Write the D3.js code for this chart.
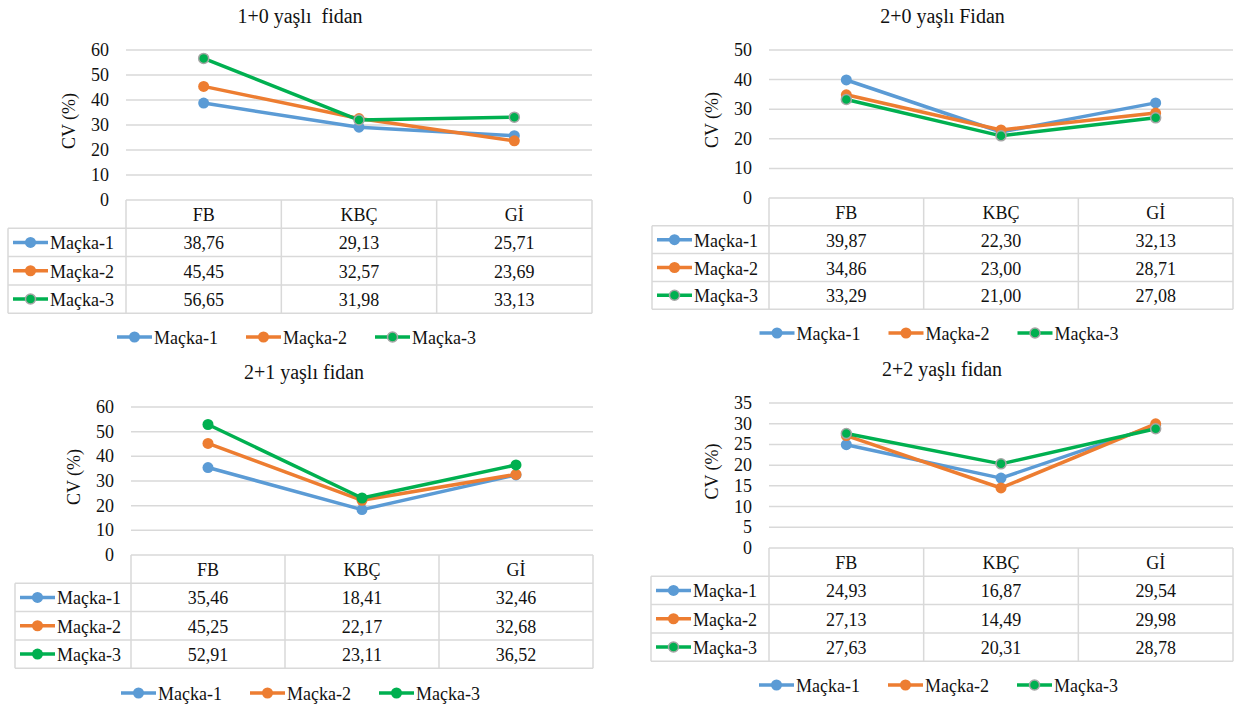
<!DOCTYPE html>
<html>
<head>
<meta charset="utf-8">
<script src="https://cdn.jsdelivr.net/npm/d3@7"></script>
<style>
  body { margin: 0; background: #fff; }
</style>
</head>
<body>
<div id="chart"></div>
<script>
// data
const categories = ["FB", "KBÇ", "Gİ"];
const seriesNames = ["Maçka-1", "Maçka-2", "Maçka-3"];
const titles = ["1+0 yaşlı  fidan", "2+0 yaşlı Fidan", "2+1 yaşlı fidan", "2+2 yaşlı fidan"];

const fidan10 = [[38.76, 29.13, 25.71], [45.45, 32.57, 23.69], [56.65, 31.98, 33.13]];
const fidan20 = [[39.87, 22.30, 32.13], [34.86, 23.00, 28.71], [33.29, 21.00, 27.08]];
const fidan21 = [[35.46, 18.41, 32.46], [45.25, 22.17, 32.68], [52.91, 23.11, 36.52]];
const fidan22 = [[24.93, 16.87, 29.54], [27.13, 14.49, 29.98], [27.63, 20.31, 28.78]];

const yMaxes = [60, 50, 60, 35];
const ySteps = [10, 10, 10, 5];

const colors = ["#5B9BD5", "#ED7D31", "#00B050"];

const width = 1236, height = 711;
const font = "Liberation Serif";
const fs = 18, fsTitle = 20;

// layout of the four panels
const panels = [
  { title: titles[0], values: fidan10, yMax: yMaxes[0], step: ySteps[0], tableLeft: 8, x0: 126, x1: 592, yTop: 50, yBottom: 200, rowH: 28.3, titleY: 16, legendY: 337, outline: true },
  { title: titles[1], values: fidan20, yMax: yMaxes[1], step: ySteps[1], tableLeft: 652, x0: 769, x1: 1233, yTop: 50, yBottom: 198, rowH: 27.8, titleY: 16, legendY: 333, outline: true },
  { title: titles[2], values: fidan21, yMax: yMaxes[2], step: ySteps[2], tableLeft: 15, x0: 131, x1: 593, yTop: 407, yBottom: 555, rowH: 28.3, titleY: 372, legendY: 693, outline: false },
  { title: titles[3], values: fidan22, yMax: yMaxes[3], step: ySteps[3], tableLeft: 651, x0: 769, x1: 1233, yTop: 403, yBottom: 548, rowH: 28.3, titleY: 369, legendY: 685, outline: true }
];

const svg = d3.select("#chart")
  .append("svg")
  .attr("width", width)
  .attr("height", height)
  .attr("font-family", font);

const fmt = v => v.toFixed(2).replace(".", ",");
const gridColor = "#d9d9d9";

function label(g, size) {
  return g.append("text")
    .attr("font-family", font)
    .style("font-family", `"${font}", serif`)
    .attr("font-size", size)
    .attr("fill", "#111")
    .attr("dominant-baseline", "central");
}

function drawMarker(g, cx, cy, i, outline) {
  const ring = i === 2 && outline;
  g.append("circle")
    .attr("cx", cx).attr("cy", cy).attr("r", ring ? 5 : 5.5)
    .attr("fill", colors[i])
    .attr("stroke", ring ? "#a5a5a5" : "none")
    .attr("stroke-width", ring ? 1.5 : 0);
}

function drawKey(g, x, y, i, outline) {
  g.append("line")
    .attr("x1", x).attr("x2", x + 35)
    .attr("y1", y).attr("y2", y)
    .attr("stroke", colors[i]).attr("stroke-width", 3.5);
  drawMarker(g, x + 17.5, y, i, outline);
}

panels.forEach(p => {
  const g = svg.append("g");

  const x = d3.scaleBand().domain(categories).range([p.x0, p.x1]);
  const y = d3.scaleLinear().domain([0, p.yMax]).range([p.yBottom, p.yTop]);
  const ticks = d3.range(0, p.yMax + p.step / 2, p.step);
  const center = (p.tableLeft + p.x1) / 2;
  const mid = c => x(c) + x.bandwidth() / 2;

  // title
  label(g, fsTitle)
    .attr("x", center).attr("y", p.titleY)
    .attr("text-anchor", "middle")
    .style("white-space", "pre")
    .text(p.title);

  // gridlines
  ticks.filter(t => t > 0).forEach(t => {
    g.append("line")
      .attr("x1", p.x0).attr("x2", p.x1)
      .attr("y1", y(t)).attr("y2", y(t))
      .attr("stroke", gridColor).attr("stroke-width", 1.5);
  });

  // tick labels
  ticks.forEach(t => {
    label(g, fs)
      .attr("x", p.x0 - 17).attr("y", y(t))
      .attr("text-anchor", "end")
      .text(t);
  });

  // axis title
  label(g, fs)
    .attr("transform", `translate(${p.x0 - 57}, ${(p.yTop + p.yBottom) / 2 - 4}) rotate(-90)`)
    .attr("text-anchor", "middle")
    .text("CV (%)");

  // data table
  const tTop = p.yBottom;
  const tBottom = tTop + p.rowH * 4;
  const tg = g.append("g")
    .attr("stroke", gridColor).attr("stroke-width", 1.5);

  tg.append("line").attr("x1", p.x0).attr("x2", p.x1).attr("y1", tTop).attr("y2", tTop);
  [1, 2, 3, 4].forEach(k => {
    tg.append("line")
      .attr("x1", p.tableLeft).attr("x2", p.x1)
      .attr("y1", tTop + p.rowH * k).attr("y2", tTop + p.rowH * k);
  });
  tg.append("line").attr("x1", p.tableLeft).attr("x2", p.tableLeft)
    .attr("y1", tTop + p.rowH).attr("y2", tBottom);
  categories.map(c => x(c)).concat([p.x1]).forEach(v => {
    tg.append("line").attr("x1", v).attr("x2", v).attr("y1", tTop).attr("y2", tBottom);
  });

  // header
  categories.forEach(c => {
    label(g, fs)
      .attr("x", mid(c)).attr("y", tTop + p.rowH / 2 + 1)
      .attr("text-anchor", "middle")
      .text(c);
  });

  // rows
  seriesNames.forEach((name, i) => {
    const ry = tTop + p.rowH * (i + 1) + p.rowH / 2;
    drawKey(g, p.tableLeft + 5, ry, i, p.outline);
    label(g, fs)
      .attr("x", p.tableLeft + 42).attr("y", ry + 1)
      .text(name);
    p.values[i].forEach((v, j) => {
      label(g, fs)
        .attr("x", mid(categories[j])).attr("y", ry + 1)
        .attr("text-anchor", "middle")
        .text(fmt(v));
    });
  });

  // lines and markers
  const line = d3.line()
    .x((d, j) => mid(categories[j]))
    .y(d => y(d));

  seriesNames.forEach((name, i) => {
    g.append("path")
      .datum(p.values[i])
      .attr("d", line)
      .attr("fill", "none")
      .attr("stroke", colors[i])
      .attr("stroke-width", 3.5)
      .attr("stroke-linejoin", "round")
      .attr("stroke-linecap", "round");
    p.values[i].forEach((v, j) => drawMarker(g, mid(categories[j]), y(v), i, p.outline));
  });

  // legend: 35px key + 2px gap + text, items 129px apart
  const itemW = 108, gap = 21;
  const total = itemW * 3 + gap * 2;
  seriesNames.forEach((name, i) => {
    const lx = center - total / 2 + i * (itemW + gap);
    const it = g.append("g").attr("transform", `translate(${lx}, ${p.legendY})`);
    drawKey(it, 0, 0, i, p.outline);
    label(it, fs).attr("x", 37).attr("y", 1).text(name);
  });
});
</script>
</body>
</html>
